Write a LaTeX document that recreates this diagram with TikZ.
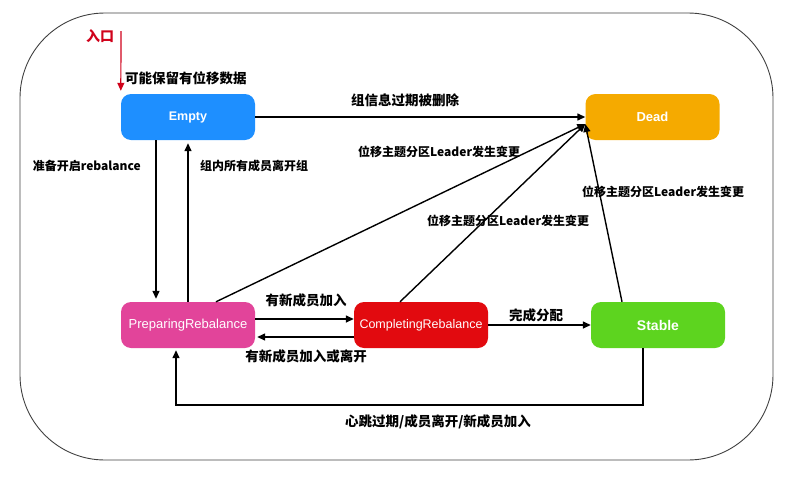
\documentclass[tikz,border=0pt]{standalone}
\usepackage{fontspec}
\setmainfont{Noto Sans CJK SC}
\newfontfamily\nodefont{Liberation Sans}
\usetikzlibrary{arrows.meta}
\definecolor{cEmpty}{HTML}{1E8FFF}
\definecolor{cDead}{HTML}{F5AA00}
\definecolor{cPrep}{HTML}{E2449A}
\definecolor{cComp}{HTML}{E20A0F}
\definecolor{cStable}{HTML}{5DD41F}
\definecolor{cEntry}{HTML}{D0021B}
\begin{document}
\begin{tikzpicture}[x=1pt,y=-1pt,
  state/.style={rounded corners=10pt, minimum width=134pt, minimum height=46pt, inner sep=0pt, text=white, font=\nodefont\fontsize{13}{15}\selectfont},
  arr/.style={line width=1.4pt, -{Triangle[length=8pt,width=7pt]}},
  lbl/.style={font=\bfseries\fontsize{13.5}{16}\selectfont, inner sep=0pt},
  slbl/.style={font=\bfseries\fontsize{12}{14}\selectfont, inner sep=0pt}]
\useasboundingbox (0,0) rectangle (804,477);
\draw[line width=0.9pt, draw=black!75, rounded corners=85pt] (20,13) rectangle (773,460);

\node[state, fill=cEmpty, font=\nodefont\bfseries\fontsize{12.5}{15}\selectfont] (empty) at (188,117) {Empty};
\node[state, fill=cDead, font=\nodefont\bfseries\fontsize{13}{15}\selectfont] (dead) at (652.5,117) {Dead};
\node[state, fill=cPrep] (prep) at (188,325) {PreparingRebalance};
\node[state, fill=cComp, font=\nodefont\fontsize{12.5}{15}\selectfont] (comp) at (421,325) {CompletingRebalance};
\node[state, fill=cStable, font=\nodefont\bfseries\fontsize{14}{17}\selectfont] (stable) at (658,325) {Stable};

\coordinate (entry) at (121,31);
\coordinate (dtip) at ([yshift=-7pt]dead.west);
\draw[arr, draw=cEntry, line width=1.2pt, shorten >=3pt] (entry) -- (empty.north west);
\node[text=cEntry, font=\bfseries\fontsize{14}{16}\selectfont, inner sep=0pt] (entrylbl) at (100,36) {入口};

\draw[arr] (empty.east) -- (dead.west);
\draw[arr, shorten >=3pt] ([xshift=-32pt]empty.south) -- ([xshift=-32pt]prep.north);
\draw[arr, shorten >=3pt] (prep.north) -- (empty.south);
\draw[arr] ([xshift=28pt]prep.north) -- (dtip);
\draw[arr] ([xshift=-21pt]comp.north) -- (dtip);
\draw[arr] ([xshift=-36pt]stable.north) -- (dtip);
\draw[arr] ([yshift=6pt]prep.east) -- ([yshift=6pt]comp.west);
\draw[arr, shorten >=2pt] ([yshift=-12pt]comp.west) -- ([yshift=-12pt]prep.east);
\draw[arr] (comp.east) -- (stable.west);
\coordinate (lb) at (176,405);
\draw[arr, shorten >=2pt] ([xshift=-15pt]stable.south) |- (lb) -- ([xshift=-12pt]prep.south);

\node[lbl, anchor=west] (l1) at (125,78) {可能保留有位移数据};
\node[lbl] (l2) at (405,100) {组信息过期被删除};
\node[slbl, anchor=east] (l3) at (141,166) {准备开启rebalance};
\node[slbl, anchor=west] (l4) at (200,166) {组内所有成员离开组};
\node[slbl, anchor=west] (l5) at (358,152) {位移主题分区Leader发生变更};
\node[slbl, anchor=west] (l6) at (427,221) {位移主题分区Leader发生变更};
\node[slbl, anchor=west] (l7) at (582,192) {位移主题分区Leader发生变更};
\node[lbl] (l8) at (306,300) {有新成员加入};
\node[lbl] (l9) at (306,356) {有新成员加入或离开};
\node[lbl] (l10) at (536,315) {完成分配};
\node[lbl] (l11) at (438,422) {心跳过期/成员离开/新成员加入};
\end{tikzpicture}
\end{document}
